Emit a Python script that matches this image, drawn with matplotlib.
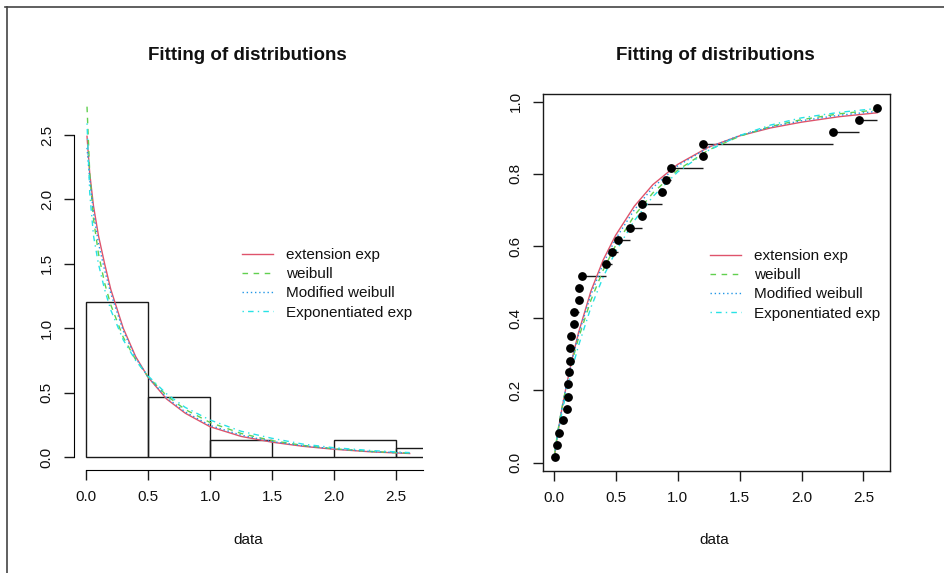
import matplotlib
matplotlib.use("Agg")
import matplotlib.pyplot as plt
from matplotlib.lines import Line2D

plt.rcParams['font.family'] = ['Liberation Sans', 'DejaVu Sans']

# ---------------- data ----------------
bin_edges = [0.0, 0.5, 1.0, 1.5, 2.0, 2.5]
bin_width = 0.5
hist_density = [1.2, 0.467, 0.133, 0.0, 0.133, 0.067]

data_x = [0.008, 0.029, 0.045, 0.073, 0.110, 0.113, 0.113, 0.121, 0.134, 0.134,
          0.137, 0.160, 0.160, 0.202, 0.207, 0.231, 0.422, 0.470, 0.516, 0.618,
          0.710, 0.713, 0.872, 0.904, 0.949, 1.205, 1.208, 2.257, 2.464, 2.609]
ecdf_p = [0.017, 0.050, 0.083, 0.117, 0.150, 0.183, 0.217, 0.250, 0.283, 0.317,
          0.350, 0.383, 0.417, 0.450, 0.483, 0.517, 0.550, 0.583, 0.617, 0.650,
          0.683, 0.717, 0.750, 0.783, 0.817, 0.850, 0.883, 0.917, 0.950, 0.983]

curve_x = [0.008, 0.03, 0.06, 0.10, 0.15, 0.20, 0.30, 0.40, 0.50, 0.65, 0.80,
           1.00, 1.25, 1.50, 1.75, 2.00, 2.30, 2.61]

# densities
dens_ext_exp = [2.49, 2.20, 1.95, 1.72, 1.50, 1.30, 1.00, 0.78, 0.62, 0.45, 0.34,
                0.235, 0.16, 0.115, 0.083, 0.060, 0.040, 0.027]
dens_weibull = [2.72, 2.20, 1.85, 1.58, 1.35, 1.18, 0.93, 0.756, 0.624, 0.476, 0.369,
                0.268, 0.183, 0.127, 0.090, 0.064, 0.043, 0.029]
dens_mod_weibull = [2.40, 2.15, 1.90, 1.66, 1.45, 1.27, 0.98, 0.77, 0.62, 0.46, 0.35,
                    0.245, 0.17, 0.12, 0.087, 0.063, 0.042, 0.029]
dens_expo_exp = [2.59, 2.05, 1.72, 1.50, 1.30, 1.14, 0.91, 0.75, 0.63, 0.49, 0.385,
                 0.287, 0.20, 0.145, 0.10, 0.072, 0.050, 0.034]

# CDFs
cdf_ext_exp = [0.020, 0.075, 0.138, 0.210, 0.290, 0.360, 0.475, 0.562, 0.630, 0.710,
               0.770, 0.826, 0.874, 0.905, 0.927, 0.943, 0.958, 0.969]
cdf_weibull = [0.027, 0.081, 0.141, 0.209, 0.282, 0.345, 0.450, 0.534, 0.602, 0.684,
               0.747, 0.810, 0.866, 0.904, 0.931, 0.950, 0.966, 0.977]
cdf_mod_weibull = [0.022, 0.077, 0.140, 0.210, 0.287, 0.355, 0.465, 0.552, 0.620, 0.700,
                   0.762, 0.822, 0.873, 0.906, 0.930, 0.947, 0.962, 0.973]
cdf_expo_exp = [0.022, 0.072, 0.128, 0.192, 0.262, 0.324, 0.430, 0.515, 0.585, 0.670,
                0.737, 0.805, 0.865, 0.906, 0.935, 0.955, 0.970, 0.981]

labels = ["extension exp", "weibull", "Modified weibull", "Exponentiated exp"]
colors = ["#DF536B", "#61D04F", "#2297E6", "#28E2E5"]
styles = ["-", (0, (4, 4)), (0, (1, 2)), (0, (1, 3, 4, 3))]

W, H = 945, 573
fig = plt.figure(figsize=(W / 100, H / 100), dpi=100)


def fx(px):
    return px / W


def fy(py):
    return 1 - py / H


FS = 11
TXT = "#111111"

# ---------------- left panel ----------------
axL = fig.add_axes([fx(74), fy(470), fx(422.7 - 74), (470 - 92.5) / H])
axL.set_xlim(-0.097, 2.715)
axL.set_ylim(-0.101, 2.83)
axL.bar(bin_edges, hist_density, width=bin_width, align='edge', fill=False,
        edgecolor="#1a1a1a", linewidth=1.0)
for y, c, ls, lab in zip([dens_ext_exp, dens_weibull, dens_mod_weibull, dens_expo_exp],
                         colors, styles, labels):
    axL.plot(curve_x, y, color=c, linestyle=ls, linewidth=1.0, label=lab)
for s in ['top', 'right']:
    axL.spines[s].set_visible(False)
axL.spines['left'].set_bounds(0, 2.5)
axL.spines['bottom'].set_bounds(0, 2.715)
axL.set_xticks([0, 0.5, 1.0, 1.5, 2.0, 2.5])
axL.set_xticklabels(["0.0", "0.5", "1.0", "1.5", "2.0", "2.5"])
axL.set_yticks([0, 0.5, 1.0, 1.5, 2.0, 2.5])
axL.set_yticklabels(["0.0", "0.5", "1.0", "1.5", "2.0", "2.5"])

# ---------------- right panel ----------------
axR = fig.add_axes([fx(542.7), fy(471), fx(890 - 542.7), (471 - 94) / H])
axR.set_xlim(-0.089, 2.714)
axR.set_ylim(-0.023, 1.021)
axR.hlines(ecdf_p[:-1], data_x[:-1], data_x[1:], color="#1a1a1a", linewidth=1.0)
for y, c, ls, lab in zip([cdf_ext_exp, cdf_weibull, cdf_mod_weibull, cdf_expo_exp],
                         colors, styles, labels):
    axR.plot(curve_x, y, color=c, linestyle=ls, linewidth=1.0, label=lab)
axR.plot(data_x, ecdf_p, 'o', color='black', markersize=5.3, zorder=5)
axR.set_xticks([0, 0.5, 1.0, 1.5, 2.0, 2.5])
axR.set_xticklabels(["0.0", "0.5", "1.0", "1.5", "2.0", "2.5"])
axR.set_yticks([0, 0.2, 0.4, 0.6, 0.8, 1.0])
axR.set_yticklabels(["0.0", "0.2", "0.4", "0.6", "0.8", "1.0"])
for s in axR.spines.values():
    s.set_color("#1a1a1a")
    s.set_linewidth(1.0)

for ax in (axL, axR):
    ax.tick_params(axis='both', length=7.5, width=1.0, color="#1a1a1a",
                   labelsize=FS, labelcolor=TXT, pad=7)
    for lab in ax.get_yticklabels():
        lab.set_rotation(90)
        lab.set_va('center')
        lab.set_ha('right')
    ax.set_facecolor('none')

# legends
for ax, x0, top in ((axL, 242, 248), (axR, 710, 249)):
    ax.legend(loc='upper left', bbox_to_anchor=(fx(x0), fy(top)),
              bbox_transform=fig.transFigure, frameon=False, borderpad=0,
              borderaxespad=0, handlelength=2.0, handletextpad=0.85,
              labelspacing=0.34, fontsize=FS, labelcolor=TXT)

# titles and x labels
for cx in (247, 715):
    fig.text(fx(cx), fy(55), "Fitting of distributions", ha='center', va='center',
             fontsize=13.5, fontweight='bold', color=TXT)
for cx in (248, 714):
    fig.text(fx(cx), fy(540), "data", ha='center', va='center', fontsize=FS, color=TXT)

# outer frame (screenshot border)
fig.add_artist(Line2D([fx(5), 1.0], [fy(6.5), fy(6.5)], color="#444444", linewidth=1.2))
fig.add_artist(Line2D([fx(7), fx(7)], [fy(6.5), 0.0], color="#444444", linewidth=1.2))

fig.savefig("out.png", dpi=100, facecolor='white')
